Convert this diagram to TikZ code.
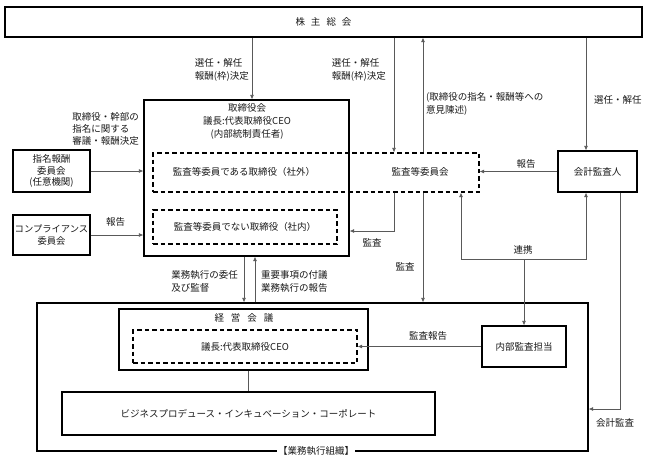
\documentclass[tikz,border=0pt]{standalone}
\usepackage{fontspec}
\setmainfont{Noto Sans CJK JP}
\usetikzlibrary{arrows.meta,positioning}

\begin{document}
\begin{tikzpicture}[x=1pt,y=-1pt,
    font=\fontsize{9.5}{13}\selectfont,text=black!90,
    box/.style={draw=black,line width=1.2pt,inner sep=0pt,align=center},
    dbox/.style={draw=black,line width=1.2pt,dash pattern=on 4.5pt off 3pt,inner sep=0pt,align=center},
    arr/.style={-{Latex[length=4.5pt,width=4pt]},draw=black!65,line width=0.7pt},
    line/.style={draw=black!65,line width=0.7pt},
    lbl/.style={align=left,inner sep=0pt}]
    \useasboundingbox (0,0) rectangle (649,461);
    % boxes
    \node[box,minimum width=637pt,minimum height=30pt] (share) at (323.5,22)
        {株\hspace{6pt}主\hspace{6pt}総\hspace{6pt}会};
    \node[box,minimum width=205pt,minimum height=156pt] (board) at (246.5,178) {};
    \node[align=center,inner sep=0pt] (boardtxt) at (247,121)
        {取締役会\\議長:代表取締役CEO\\(内部統制責任者)};
    \node[dbox,minimum width=326pt,minimum height=39pt] (auditbox) at (316,172.5) {};
    \node (outside) at (244,172) {監査等委員である取締役（社外）};
    \node (audit) at (420,172) {監査等委員会};
    \node[dbox,minimum width=184pt,minimum height=34pt] (inside) at (245,227)
        {監査等委員でない取締役（社内）};
    \node[box,minimum width=79pt,minimum height=41pt] (acct) at (597.5,171.5) {会計監査人};
    \node[box,minimum width=77pt,minimum height=42pt,font=\fontsize{9.5}{11.5}\selectfont]
        (nom) at (51.5,171) {指名報酬\\委員会\\(任意機関)};
    \node[box,minimum width=77pt,minimum height=40pt,font=\fontsize{9.3}{12.5}\selectfont]
        (comp) at (51.5,235) {コンプライアンス\\委員会};
    \node[box,minimum width=551pt,minimum height=148pt] (exec) at (312.5,377) {};
    \node[box,minimum width=249pt,minimum height=61pt] (mgmt) at (243.5,339.5) {};
    \node (mgmttxt) at (244,318) {経\hspace{7pt}営\hspace{7pt}会\hspace{7pt}議};
    \node[dbox,minimum width=224pt,minimum height=33pt] (chair) at (245,346.5)
        {議長:代表取締役CEO};
    \node[box,minimum width=373pt,minimum height=43pt] (biz) at (248.5,413.5)
        {ビジネスプロデュース・インキュベーション・コーポレート};
    \node[box,minimum width=84pt,minimum height=41pt] (intaudit) at (524,346.5) {内部監査担当};
    % connectors
    \draw[arr] ([xshift=5.5pt]board.north |- share.south) -- ([xshift=5.5pt]board.north);
    \draw[arr] ([xshift=78pt]auditbox.north |- share.south) -- ([xshift=78pt]auditbox.north);
    \draw[arr] ([xshift=107pt]auditbox.north) -- ([xshift=107pt]auditbox.north |- share.south);
    \draw[arr] ([xshift=-11.5pt]acct.north |- share.south) -- ([xshift=-11.5pt]acct.north);
    \draw[arr] (acct.west) -- (acct.west -| auditbox.east);
    \draw[arr] (nom.east) -- (nom.east -| board.west);
    \draw[arr] (comp.east) -- (comp.east -| board.west);
    \draw[arr] ([xshift=78pt]auditbox.south) |- ([yshift=-4pt]inside.east -| board.east);
    \draw[arr] ([xshift=107pt]auditbox.south) -- ([xshift=107pt]auditbox.south |- exec.north);
    \coordinate (link) at (524,259);
    \draw[arr] (link) -| ([xshift=145pt]auditbox.south);
    \draw[arr] (link) -| ([xshift=-11.5pt]acct.south);
    \draw[arr] (link) -- (intaudit.north);
    \draw[arr] ([xshift=22.5pt]acct.south) |- ([yshift=-32pt]exec.east);
    \draw[arr] ([xshift=-2.5pt]board.south) -- ([xshift=-2.5pt]board.south |- exec.north);
    \draw[arr] ([xshift=8.5pt]board.south |- exec.north) -- ([xshift=8.5pt]board.south);
    \draw[arr] (intaudit.west) -- (intaudit.west -| chair.east);
    \draw[line] (mgmt.south -| biz.north) -- (biz.north);
    % labels
    \node[lbl,anchor=east] (elect1) at (249,70) {選任・解任\\報酬(枠)決定};
    \node[lbl,anchor=east] (elect2) at (386,70) {選任・解任\\報酬(枠)決定};
    \node[lbl,anchor=west] (opinion) at (426,104) {(取締役の指名・報酬等への\\意見陳述)};
    \node[lbl,anchor=west] (elect3) at (594,100) {選任・解任};
    \node[lbl,anchor=east,font=\fontsize{9.5}{12}\selectfont] (deliberate) at (139,129)
        {取締役・幹部の\\指名に関する\\審議・報酬決定};
    \node (report1) at (115.5,222) {報告};
    \node (report2) at (526,164) {報告};
    \node (audit1) at (372,243) {監査};
    \node (audit2) at (405,267) {監査};
    \node (coop) at (523,250) {連携};
    \node[lbl,anchor=east] (delegate) at (238,281) {業務執行の委任\\及び監督};
    \node[lbl,anchor=west] (reportexec) at (261,281) {重要事項の付議\\業務執行の報告};
    \node (auditreport) at (428,336) {監査報告};
    \node (acctaudit) at (615,423) {会計監査};
    \node[fill=white,inner sep=1pt] (execorg) at (316,451) {【業務執行組織】};
\end{tikzpicture}
\end{document}
